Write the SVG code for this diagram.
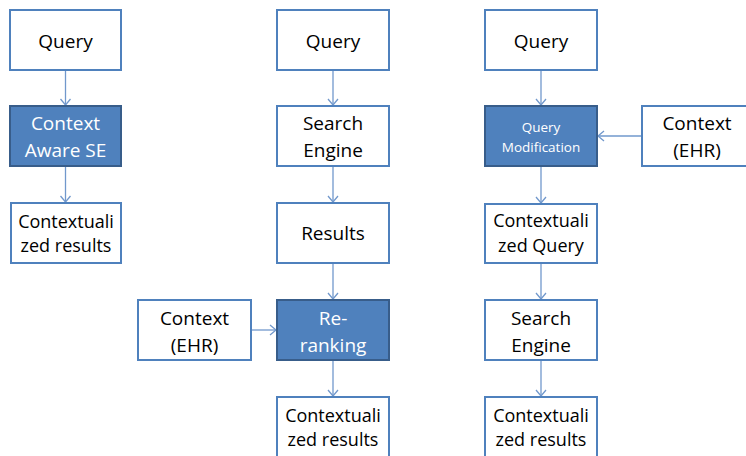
<svg xmlns="http://www.w3.org/2000/svg" width="746" height="456" viewBox="0 0 746 456">
<style>
.box{fill:#fff;stroke:#4f81bd;stroke-width:2}
.dark{fill:#4f81bd;stroke:#385d8a;stroke-width:2}
.t{font-family:"Open Sans","Liberation Sans",sans-serif;font-size:18px;fill:#000;text-anchor:middle}
.tw{fill:#fff}
.tl{font-size:19px}
.ts{font-size:13.5px}
.c{stroke:#7198cc;stroke-width:1.3;fill:none}
</style>
<defs>
<marker id="ah" markerUnits="userSpaceOnUse" markerWidth="12" markerHeight="12" refX="7" refY="6" orient="auto">
<path d="M1,1 L7,6 L1,11" fill="none" stroke="#7198cc" stroke-width="1.3"/>
</marker>
</defs>
<g id="connectors">
<line class="c" x1="65.5" y1="71" x2="65.5" y2="105" marker-end="url(#ah)"/>
<line class="c" x1="65.5" y1="167" x2="65.5" y2="202" marker-end="url(#ah)"/>
<line class="c" x1="333" y1="71" x2="333" y2="105" marker-end="url(#ah)"/>
<line class="c" x1="333" y1="167" x2="333" y2="202" marker-end="url(#ah)"/>
<line class="c" x1="333" y1="264" x2="333" y2="299" marker-end="url(#ah)"/>
<line class="c" x1="333" y1="361" x2="333" y2="396" marker-end="url(#ah)"/>
<line class="c" x1="252" y1="330" x2="276" y2="330" marker-end="url(#ah)"/>
<line class="c" x1="541" y1="71" x2="541" y2="105" marker-end="url(#ah)"/>
<line class="c" x1="541" y1="167" x2="541" y2="203" marker-end="url(#ah)"/>
<line class="c" x1="541" y1="264" x2="541" y2="299" marker-end="url(#ah)"/>
<line class="c" x1="541" y1="361" x2="541" y2="396" marker-end="url(#ah)"/>
<line class="c" x1="641" y1="136" x2="598" y2="136" marker-end="url(#ah)"/>
</g>
<g id="q1"><rect class="box" x="10" y="10" width="111" height="60"/><text class="t tl" x="65.5" y="48">Query</text></g>
<g id="case"><rect class="dark" x="10" y="106" width="111" height="60"/><text class="t tw tl" x="65.5" y="130">Context</text><text class="t tw tl" x="65.5" y="157">Aware SE</text></g>
<g id="r1"><rect class="box" x="11" y="203" width="110" height="60"/><text class="t" x="66" y="228">Contextuali</text><text class="t" x="66" y="252">zed results</text></g>
<g id="q2"><rect class="box" x="277" y="10" width="112" height="60"/><text class="t tl" x="333" y="48">Query</text></g>
<g id="se2"><rect class="box" x="277" y="106" width="112" height="60"/><text class="t tl" x="333" y="130">Search</text><text class="t tl" x="333" y="157">Engine</text></g>
<g id="res2"><rect class="box" x="277" y="203" width="112" height="60"/><text class="t tl" x="333" y="240">Results</text></g>
<g id="ctx2"><rect class="box" x="138" y="300" width="113" height="60"/><text class="t tl" x="194.5" y="325">Context</text><text class="t tl" x="194.5" y="352">(EHR)</text></g>
<g id="rerank"><rect class="dark" x="277" y="300" width="112" height="60"/><text class="t tw tl" x="333" y="325">Re-</text><text class="t tw tl" x="333" y="352">ranking</text></g>
<g id="r2"><rect class="box" x="277" y="397" width="112" height="60"/><text class="t" x="333" y="422">Contextuali</text><text class="t" x="333" y="446">zed results</text></g>
<g id="q3"><rect class="box" x="485" y="10" width="112" height="60"/><text class="t tl" x="541" y="48">Query</text></g>
<g id="qm"><rect class="dark" x="485" y="106" width="112" height="60"/><text class="t tw ts" x="541" y="132">Query</text><text class="t tw ts" x="541" y="152">Modification</text></g>
<g id="ctx3"><rect class="box" x="642" y="106" width="110" height="60"/><text class="t tl" x="697" y="130">Context</text><text class="t tl" x="697" y="157">(EHR)</text></g>
<g id="cq"><rect class="box" x="485" y="204" width="112" height="59"/><text class="t" x="541" y="227">Contextuali</text><text class="t" x="541" y="252">zed Query</text></g>
<g id="se3"><rect class="box" x="485" y="300" width="112" height="60"/><text class="t tl" x="541" y="325">Search</text><text class="t tl" x="541" y="352">Engine</text></g>
<g id="r3"><rect class="box" x="485" y="397" width="112" height="60"/><text class="t" x="541" y="422">Contextuali</text><text class="t" x="541" y="446">zed results</text></g>
</svg>
